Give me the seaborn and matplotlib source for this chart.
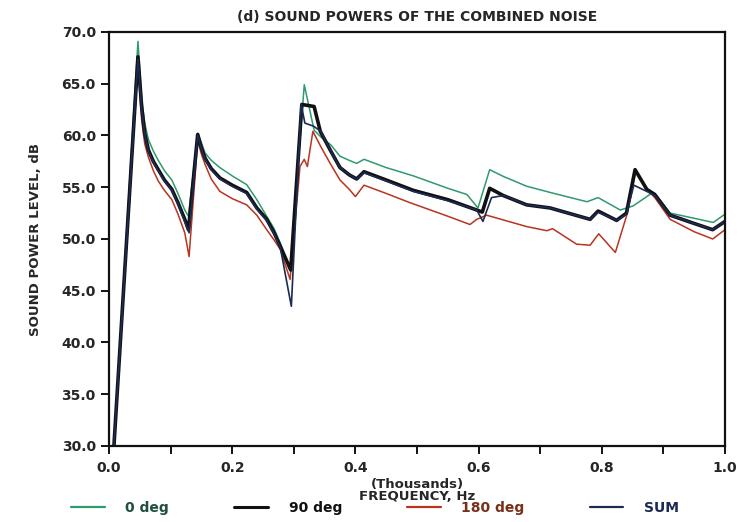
import numpy as np
import pandas as pd
import matplotlib
matplotlib.use("Agg")
import matplotlib.pyplot as plt
import seaborn as sns
from matplotlib.lines import Line2D

# ---------------- data ----------------
x_0deg = [0.008, 0.047, 0.053, 0.058, 0.064, 0.072, 0.080, 0.090, 0.102, 0.112, 0.123, 0.129,
          0.144, 0.150, 0.156, 0.166, 0.180, 0.200, 0.2235, 0.240, 0.256, 0.268, 0.278, 0.294,
          0.317, 0.333, 0.345, 0.360, 0.375, 0.390, 0.402, 0.414, 0.450, 0.494, 0.550, 0.581,
          0.599, 0.618, 0.628, 0.640, 0.678, 0.716, 0.776, 0.794, 0.830, 0.851, 0.878, 0.886,
          0.911, 0.950, 0.981, 1.000]
y_0deg = [30.0, 69.1, 63.5, 61.2, 59.6, 58.5, 57.6, 56.6, 55.7, 54.4, 52.8, 52.2,
          60.2, 59.3, 58.3, 57.6, 56.9, 56.1, 55.25, 53.8, 52.2, 51.0, 49.6, 47.1,
          64.9, 60.5, 59.8, 59.1, 58.0, 57.6, 57.3, 57.7, 56.9, 56.1, 54.9, 54.3,
          53.0, 56.7, 56.4, 56.05, 55.1, 54.5, 53.6, 54.0, 52.8, 53.2, 54.3, 54.4,
          52.5, 52.0, 51.6, 52.4]

x_90deg = [0.008, 0.047, 0.053, 0.058, 0.064, 0.072, 0.080, 0.090, 0.102, 0.112, 0.123, 0.129,
           0.144, 0.150, 0.156, 0.166, 0.180, 0.200, 0.2235, 0.240, 0.256, 0.268, 0.278, 0.295,
           0.313, 0.333, 0.343, 0.360, 0.375, 0.390, 0.402, 0.414, 0.450, 0.494, 0.550, 0.597,
           0.606, 0.618, 0.640, 0.678, 0.716, 0.781, 0.794, 0.824, 0.840, 0.854, 0.873, 0.886,
           0.911, 0.950, 0.980, 1.000]
y_90deg = [30.0, 67.6, 62.8, 60.2, 58.6, 57.5, 56.7, 55.7, 54.8, 53.5, 51.9, 50.9,
           60.1, 58.8, 57.8, 56.8, 55.9, 55.2, 54.5, 53.0, 51.9, 50.6, 49.3, 47.0,
           63.0, 62.8, 60.4, 58.5, 56.9, 56.2, 55.8, 56.5, 55.7, 54.7, 53.8, 52.8,
           52.6, 54.9, 54.2, 53.3, 53.0, 51.9, 52.7, 51.8, 52.5, 56.7, 54.8, 54.3,
           52.3, 51.5, 50.9, 51.7]

x_180deg = [0.008, 0.047, 0.053, 0.058, 0.064, 0.072, 0.080, 0.090, 0.102, 0.112, 0.123, 0.130,
            0.144, 0.150, 0.156, 0.166, 0.180, 0.200, 0.2235, 0.240, 0.256, 0.268, 0.278, 0.294,
            0.310, 0.317, 0.322, 0.331, 0.344, 0.360, 0.375, 0.390, 0.400, 0.414, 0.450, 0.489,
            0.550, 0.586, 0.597, 0.613, 0.678, 0.711, 0.720, 0.759, 0.781, 0.795, 0.822, 0.840,
            0.855, 0.873, 0.886, 0.911, 0.950, 0.980, 1.000]
y_180deg = [30.0, 66.8, 61.5, 59.2, 57.9, 56.6, 55.6, 54.7, 53.8, 52.4, 50.6, 48.3,
            59.5, 58.2, 57.2, 55.8, 54.6, 53.9, 53.3, 52.3, 50.9, 49.9, 49.0, 46.1,
            57.0, 57.7, 57.0, 60.4, 58.9, 57.2, 55.7, 54.8, 54.1, 55.2, 54.4, 53.5,
            52.2, 51.4, 51.9, 52.3, 51.2, 50.8, 51.0, 49.5, 49.4, 50.5, 48.7, 52.2,
            56.5, 54.8, 54.0, 51.9, 50.7, 50.0, 50.9]

x_sum = [0.008, 0.047, 0.053, 0.058, 0.064, 0.072, 0.080, 0.090, 0.102, 0.112, 0.123, 0.130,
         0.144, 0.150, 0.156, 0.166, 0.180, 0.200, 0.2235, 0.240, 0.256, 0.268, 0.278, 0.296,
         0.312, 0.318, 0.332, 0.344, 0.360, 0.375, 0.390, 0.402, 0.414, 0.450, 0.494, 0.550,
         0.597, 0.607, 0.621, 0.640, 0.678, 0.716, 0.781, 0.794, 0.824, 0.840, 0.852, 0.873,
         0.886, 0.911, 0.950, 0.980, 1.000]
y_sum = [30.0, 67.4, 62.6, 60.1, 58.5, 57.4, 56.6, 55.6, 54.7, 53.4, 51.7, 50.6,
         60.0, 58.7, 57.7, 56.7, 55.8, 55.1, 54.4, 52.9, 51.8, 50.5, 49.2, 43.5,
         63.0, 61.2, 60.9, 60.4, 58.5, 56.9, 56.2, 55.8, 56.4, 55.6, 54.6, 53.7,
         52.8, 51.7, 54.0, 54.2, 53.3, 53.0, 51.9, 52.6, 51.8, 52.4, 55.2, 54.6,
         54.2, 52.3, 51.5, 50.9, 51.7]

series_names = ["0 deg", "90 deg", "180 deg", "SUM"]
x_ticks = [0.0, 0.2, 0.4, 0.6, 0.8, 1.0]
y_ticks = [30.0, 35.0, 40.0, 45.0, 50.0, 55.0, 60.0, 65.0, 70.0]

# ---------------- plotting ----------------
sns.set_style("ticks")
plt.rcParams["font.family"] = ["DejaVu Sans"]
plt.rcParams["font.weight"] = "bold"

fig = plt.figure(figsize=(7.43, 5.22), dpi=100)
ax = fig.add_axes([109/743, 1-446/522, (725-109)/743, (446-32)/522])

colors = {"0 deg": "#2f9a6c", "90 deg": "#111111", "180 deg": "#b8341e", "SUM": "#1c2a55"}
widths = {"0 deg": 1.1, "90 deg": 2.6, "180 deg": 1.1, "SUM": 1.2}
data = {
    "0 deg": (x_0deg, y_0deg),
    "180 deg": (x_180deg, y_180deg),
    "SUM": (x_sum, y_sum),
    "90 deg": (x_90deg, y_90deg),
}
for name in ["0 deg", "180 deg", "90 deg", "SUM"]:
    xs, ys = data[name]
    df = pd.DataFrame({"freq": xs, "level": ys})
    sns.lineplot(data=df, x="freq", y="level", ax=ax, color=colors[name],
                 linewidth=widths[name], estimator=None, sort=False, label=name,
                 legend=False)

ax.set_xlim(0.0, 1.0)
ax.set_ylim(30.0, 70.0)
ax.set_xticks(x_ticks)
ax.set_xticks(np.arange(0, 1.01, 0.1), minor=True)
ax.set_yticks(y_ticks)
ax.set_xticklabels([f"{v:.1f}" for v in x_ticks], fontsize=10, fontweight="bold")
ax.set_yticklabels([f"{v:.1f}" for v in y_ticks], fontsize=10, fontweight="bold")
ax.tick_params(axis="both", which="both", direction="out", length=6, width=1.4, color="#111111")
ax.tick_params(axis="x", which="major", pad=5)
for s in ax.spines.values():
    s.set_visible(True)
    s.set_linewidth(1.6)
    s.set_color("#111111")

ax.set_title("(d) SOUND POWERS OF THE COMBINED NOISE", fontsize=10, fontweight="bold", pad=8)
ax.set_xlabel("(Thousands)\nFREQUENCY, Hz", fontsize=9.5, fontweight="bold", labelpad=2,
              linespacing=0.9)
ax.set_ylabel("SOUND POWER LEVEL, dB", fontsize=9.5, fontweight="bold", labelpad=14)

# legend
handles = [Line2D([], [], color=colors[n], linewidth=(1.6 if n != "90 deg" else 2.2)) for n in series_names]
leg = fig.legend(handles, series_names, loc="lower center", bbox_to_anchor=(0.505, -0.01),
                 ncol=4, frameon=False, handlelength=2.4, columnspacing=4.7,
                 handletextpad=1.5, prop={"size": 10, "weight": "bold"})
txt_colors = ["#1f4f3f", "#111111", "#7a3018", "#1c2a55"]
for t, c in zip(leg.get_texts(), txt_colors):
    t.set_color(c)

fig.savefig("out.png", dpi=100)
